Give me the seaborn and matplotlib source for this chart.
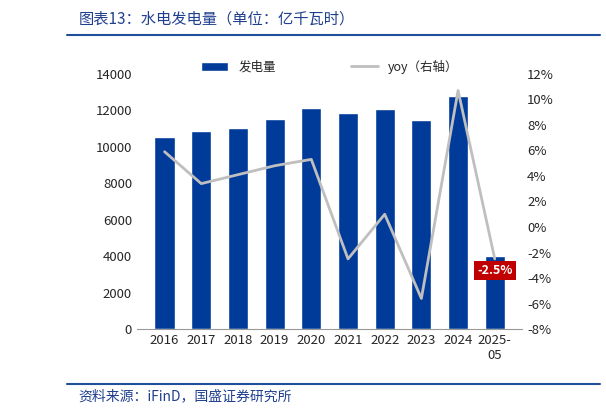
import matplotlib
matplotlib.use("Agg")
import matplotlib.pyplot as plt
import seaborn as sns
import pandas as pd

years = ["2016","2017","2018","2019","2020","2021","2022","2023","2024","2025-\n05"]
power = [10550, 10850, 11050, 11550, 12150, 11850, 12050, 11450, 12800, 4000]
yoy = [5.9, 3.4, 4.1, 4.8, 5.3, -2.5, 1.0, -5.6, 10.7, -2.5]

sns.set_style("white")
plt.rcParams['font.family'] = ['Noto Sans CJK SC', 'DejaVu Sans']

fig = plt.figure(figsize=(6.06, 4.15), dpi=100)
ax = fig.add_axes([0.226, 0.207, 0.636, 0.615])
df = pd.DataFrame({"year": years, "power": power})
sns.barplot(data=df, x="year", y="power", color="#003b9a", width=0.55, ax=ax, saturation=1, label="发电量")
ax.set_ylim(0, 14000)
ax.set_yticks(range(0, 14001, 2000))
ax.set_xlabel(""); ax.set_ylabel("")
ax.tick_params(labelsize=9.5, length=0)
for s in ["top", "right", "left"]:
    ax.spines[s].set_visible(False)
ax.spines["bottom"].set_color("#999999")

ax2 = ax.twinx()
sns.lineplot(x=list(range(len(years))), y=yoy, color="#bfbfbf", lw=2, ax=ax2, label="yoy（右轴）")
ax2.set_ylim(-8, 12)
ax2.set_yticks(range(-8, 13, 2))
ax2.set_yticklabels([f"{v}%" for v in range(-8, 13, 2)])
ax2.tick_params(labelsize=9.5, length=0)
for s in ["top", "right", "left", "bottom"]:
    ax2.spines[s].set_visible(False)
ax2.legend_.remove()
ax2.text(9, -3.4, "-2.5%", color="white", fontsize=9, fontweight="bold", ha="center", va="center",
         bbox=dict(boxstyle="square,pad=0.25", fc="#c00000", ec="none"))

h1, l1 = ax.get_legend_handles_labels()
h2, l2 = ax2.get_legend_handles_labels()
ax.legend(h1 + h2, l1 + l2, loc="upper center", bbox_to_anchor=(0.5, 1.1), ncol=2, frameon=False,
          fontsize=9, columnspacing=6, handlelength=2.2)

fig.text(0.13, 0.955, "图表13：水电发电量（单位：亿千瓦时）", fontsize=11, color="#1f3f8f", style="italic", va="center")
fig.add_artist(plt.Line2D([0.11, 0.99], [0.915, 0.915], color="#1f4e9a", lw=1.5))
fig.add_artist(plt.Line2D([0.11, 0.99], [0.075, 0.075], color="#1f4e9a", lw=1.5))
fig.text(0.13, 0.045, "资料来源：iFinD，国盛证券研究所", fontsize=10, color="#1f3f8f", style="italic", va="center")
fig.savefig("out.png", dpi=100)
